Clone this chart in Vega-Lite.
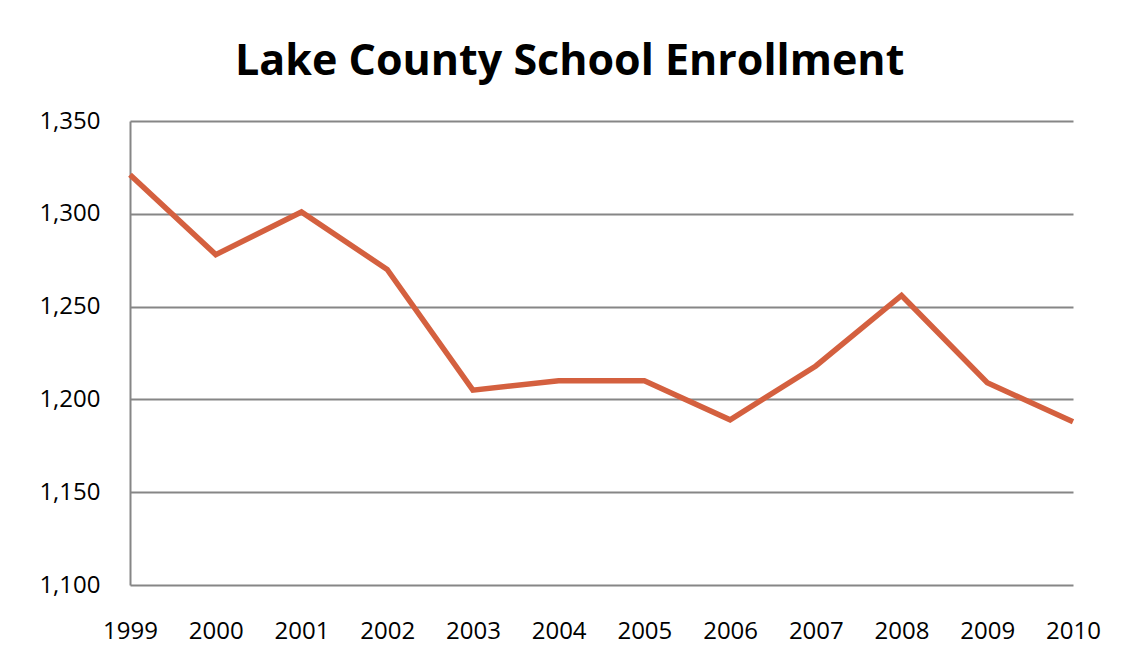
{
  "$schema": "https://vega.github.io/schema/vega-lite/v6.json",
  "width": 943,
  "height": 464,
  "autosize": "none",
  "padding": {"left": 130, "top": 121, "right": 52, "bottom": 84},
  "background": "white",
  "title": {
    "text": "Lake County School Enrollment",
    "font": "Open Sans",
    "fontSize": 43,
    "fontWeight": "bold",
    "color": "black",
    "anchor": "middle",
    "frame": "bounds",
    "baseline": "alphabetic",
    "offset": -9
  },
  "data": {
    "values": [
      {"year": "1999", "enrollment": 1321},
      {"year": "2000", "enrollment": 1278},
      {"year": "2001", "enrollment": 1301},
      {"year": "2002", "enrollment": 1270},
      {"year": "2003", "enrollment": 1205},
      {"year": "2004", "enrollment": 1210},
      {"year": "2005", "enrollment": 1210},
      {"year": "2006", "enrollment": 1189},
      {"year": "2007", "enrollment": 1218},
      {"year": "2008", "enrollment": 1256},
      {"year": "2009", "enrollment": 1209},
      {"year": "2010", "enrollment": 1188}
    ]
  },
  "mark": {"type": "line", "color": "#D4603F", "strokeWidth": 5.5, "strokeJoin": "miter", "strokeCap": "butt"},
  "encoding": {
    "x": {
      "field": "year",
      "type": "ordinal",
      "scale": {"type": "point", "padding": 0},
      "axis": {
        "title": null,
        "labelAngle": 0,
        "ticks": false,
        "domain": false,
        "grid": false,
        "labelPadding": 34,
        "labelFont": "Open Sans",
        "labelFontSize": 24,
        "labelColor": "black"
      }
    },
    "y": {
      "field": "enrollment",
      "type": "quantitative",
      "scale": {"domain": [1100, 1350], "nice": false, "zero": false},
      "axis": {
        "title": null,
        "values": [1100, 1150, 1200, 1250, 1300, 1350],
        "format": ",d",
        "ticks": false,
        "domain": true,
        "domainColor": "#868686",
        "domainWidth": 2,
        "grid": true,
        "gridColor": "#868686",
        "gridWidth": 2,
        "labelPadding": 30,
        "labelFont": "Open Sans",
        "labelFontSize": 24,
        "labelColor": "black"
      }
    }
  },
  "config": {"view": {"stroke": null}}
}
